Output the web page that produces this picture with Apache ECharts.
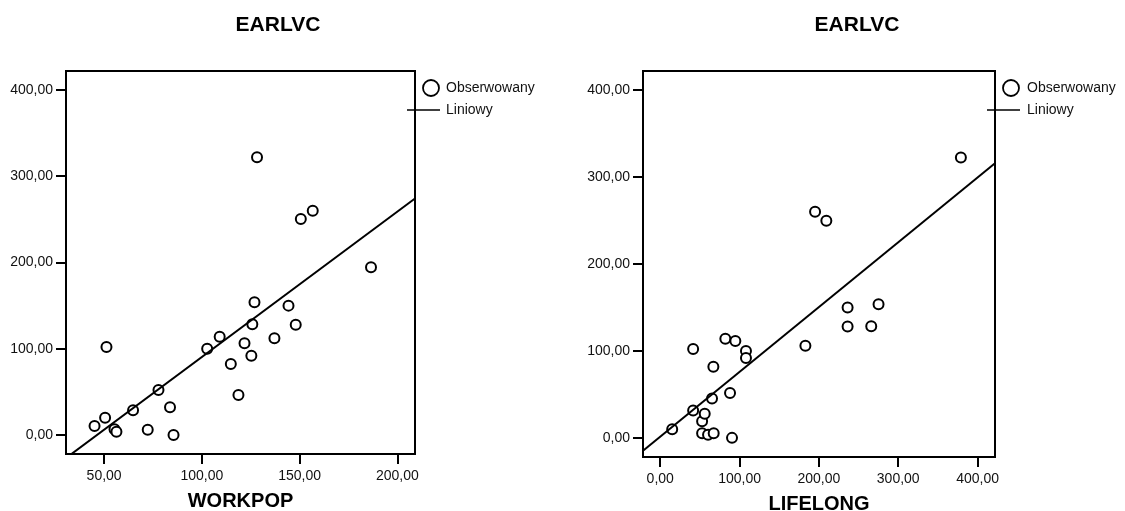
<!DOCTYPE html>
<html>
<head>
<meta charset="utf-8">
<script src="https://cdn.jsdelivr.net/npm/echarts@6/dist/echarts.min.js"></script>
<style>
html,body{margin:0;padding:0;background:#fff;}
#chart{width:1125px;height:511px;}
</style>
</head>
<body>
<div id="chart"></div>
<script>
// ---- data ----
const chartTitle = 'EARLVC';
const legendNames = ['Obserwowany', 'Liniowy'];

const workpopX = [45.1, 50.5, 51.2, 55.3, 56.3, 64.8, 72.3, 77.8, 83.7, 85.5, 102.7, 109.1, 114.8, 118.7, 121.8, 125.3, 125.8, 126.9, 128.2, 137.1, 144.3, 148.0, 150.6, 156.7, 186.5];
const workpopY = [10.4, 20.1, 102.0, 6.6, 3.9, 28.6, 6.2, 52.2, 32.1, 0.0, 100.1, 114.0, 82.3, 46.4, 106.3, 92.0, 128.3, 153.8, 321.9, 112.1, 150.0, 127.9, 250.4, 260.1, 194.4];

const lifelongX = [15.1, 41.5, 41.5, 52.8, 56.1, 52.8, 60.3, 67.4, 65.3, 67.0, 82.1, 88.0, 90.5, 94.7, 108.1, 108.1, 183.0, 195.2, 209.4, 236.2, 236.2, 266.0, 275.2, 379.0];
const lifelongY = [10.0, 102.2, 31.5, 19.2, 27.7, 5.4, 3.5, 5.4, 45.3, 81.8, 114.1, 51.5, 0.0, 111.4, 99.9, 91.8, 106.1, 260.1, 249.8, 149.9, 128.0, 128.3, 153.7, 322.4];

// linear fit lines: [intercept, slope]
const workpopFit = [-78.1, 1.686];
const lifelongFit = [1.3, 0.7457];

// axis ranges and tick labels
const workpopRange = [30.5, 209];
const lifelongRange = [-21.7, 422];
const yRange = [-22, 422];
const workpopTicks = [50, 100, 150, 200];
const lifelongTicks = [0, 100, 200, 300, 400];
const yTicks = [0, 100, 200, 300, 400];

// ---- build chart ----
const FONT = '"Liberation Sans", Arial, sans-serif';
const fmt = v => v.toFixed(2).replace('.', ',');
const pairs = (xs, ys) => xs.map((x, i) => [x, ys[i]]);
const fitLine = (fit, range) => range.map(x => [x, fit[0] + fit[1] * x]);

function xAxisCfg(idx, name, range, ticks) {
  return {
    type: 'value', gridIndex: idx, min: range[0], max: range[1],
    name: name, nameLocation: 'middle', nameGap: 37,
    nameTextStyle: {fontFamily: FONT, fontSize: 20, fontWeight: 'bold', color: '#000'},
    axisLine: {show: true, onZero: false, lineStyle: {color: '#000', width: 2}},
    axisTick: {show: true, length: 10, lineStyle: {color: '#000', width: 2}, customValues: ticks},
    axisLabel: {fontFamily: FONT, fontSize: 14, color: '#111', margin: 15, formatter: fmt, customValues: ticks},
    splitLine: {show: false}
  };
}
function yAxisCfg(idx, range, ticks) {
  return {
    type: 'value', gridIndex: idx, min: range[0], max: range[1],
    axisLine: {show: true, onZero: false, lineStyle: {color: '#000', width: 2}},
    axisTick: {show: true, length: 10, lineStyle: {color: '#000', width: 2}, customValues: ticks},
    axisLabel: {fontFamily: FONT, fontSize: 14, color: '#111', margin: 13, formatter: fmt, customValues: ticks},
    splitLine: {show: false}
  };
}
const scatterStyle = {
  type: 'scatter', symbol: 'circle', symbolSize: 10,
  itemStyle: {color: '#fff', borderColor: '#000', borderWidth: 2, opacity: 1},
  emphasis: {disabled: true}
};
const lineStyle = {
  type: 'line', showSymbol: false, symbol: 'none', clip: true,
  lineStyle: {color: '#000', width: 2}, emphasis: {disabled: true}
};

function legendGraphic(cx, lineX0, textX) {
  return [
    {type: 'circle', shape: {cx: cx, cy: 88, r: 8}, style: {fill: '#fff', stroke: '#000', lineWidth: 1.8}, z: 100},
    {type: 'text', x: textX, y: 88, style: {text: legendNames[0], font: '14px ' + FONT, fill: '#111', textVerticalAlign: 'middle'}, z: 100},
    {type: 'line', shape: {x1: lineX0, y1: 110, x2: lineX0 + 33, y2: 110}, style: {stroke: '#000', lineWidth: 1.5}, z: 100},
    {type: 'text', x: textX, y: 110, style: {text: legendNames[1], font: '14px ' + FONT, fill: '#111', textVerticalAlign: 'middle'}, z: 100}
  ];
}

const option = {
  animation: false,
  backgroundColor: '#fff',
  grid: [
    {left: 66, top: 71, width: 349, height: 383, outerBoundsMode: 'none', containLabel: false, show: true, borderColor: '#000', borderWidth: 2, backgroundColor: 'transparent'},
    {left: 643, top: 71, width: 352, height: 386, outerBoundsMode: 'none', containLabel: false, show: true, borderColor: '#000', borderWidth: 2, backgroundColor: 'transparent'}
  ],
  xAxis: [
    xAxisCfg(0, 'WORKPOP', workpopRange, workpopTicks),
    xAxisCfg(1, 'LIFELONG', lifelongRange, lifelongTicks)
  ],
  yAxis: [
    yAxisCfg(0, yRange, yTicks),
    yAxisCfg(1, yRange, yTicks)
  ],
  series: [
    Object.assign({}, scatterStyle, {name: legendNames[0], xAxisIndex: 0, yAxisIndex: 0, data: pairs(workpopX, workpopY)}),
    Object.assign({}, lineStyle, {name: legendNames[1], xAxisIndex: 0, yAxisIndex: 0, data: fitLine(workpopFit, workpopRange)}),
    Object.assign({}, scatterStyle, {name: legendNames[0], xAxisIndex: 1, yAxisIndex: 1, data: pairs(lifelongX, lifelongY)}),
    Object.assign({}, lineStyle, {name: legendNames[1], xAxisIndex: 1, yAxisIndex: 1, data: fitLine(lifelongFit, lifelongRange)})
  ],
  graphic: [
    {type: 'text', x: 278, y: 25, style: {text: chartTitle, font: 'bold 21px ' + FONT, fill: '#000', textAlign: 'center', textVerticalAlign: 'middle'}},
    {type: 'text', x: 857, y: 25, style: {text: chartTitle, font: 'bold 21px ' + FONT, fill: '#000', textAlign: 'center', textVerticalAlign: 'middle'}}
  ].concat(legendGraphic(431, 407, 446), legendGraphic(1011, 987, 1027))
};

const chart = echarts.init(document.getElementById('chart'), null, {renderer: 'canvas'});
chart.setOption(option);
</script>
</body>
</html>
